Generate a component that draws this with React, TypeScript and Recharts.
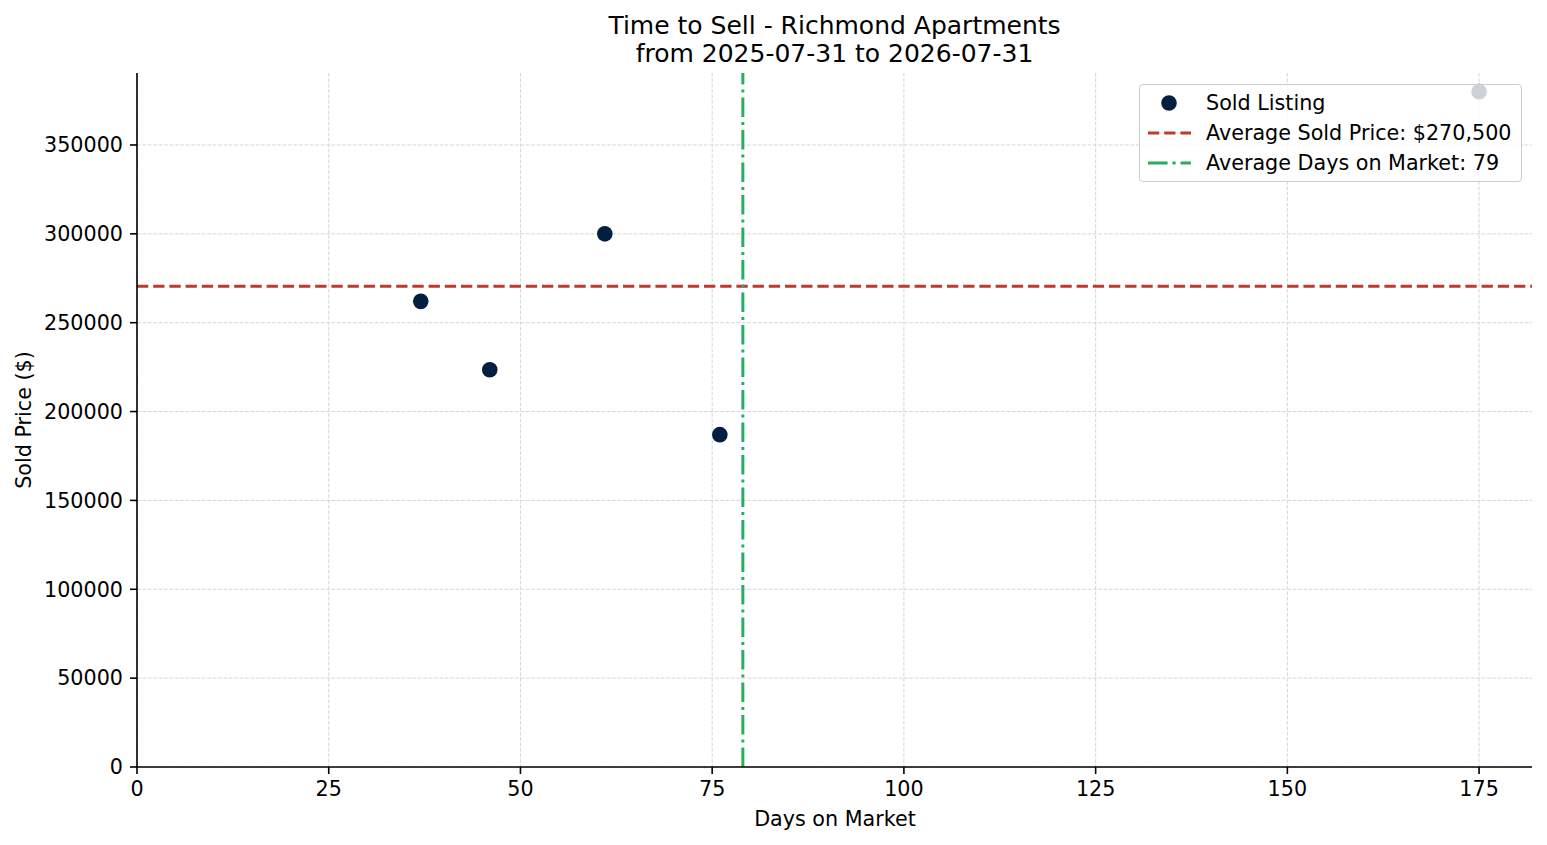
import { ScatterChart, Scatter, XAxis, YAxis, CartesianGrid, ReferenceLine } from "recharts"

const days = [37, 46, 61, 76, 175]
const soldPrices = [262000, 223500, 300000, 187000, 380000]
const xTicks = [0, 25, 50, 75, 100, 125, 150, 175]
const yTicks = [0, 50000, 100000, 150000, 200000, 250000, 300000, 350000]
const avgPrice = 270500
const avgDays = 79

const NAVY = "#031f3f"
const RED = "#c0392b"
const GREEN = "#27ae60"
const FONT = "'DejaVu Sans', sans-serif"

const points = days.map((d, i) => ({ days: d, price: soldPrices[i] }))

const Dot = (props: any) => <circle cx={props.cx} cy={props.cy} r={7.8} fill={NAVY} />

function LegendBox() {
  const row = (y: number) => ({ position: "absolute" as const, top: y - 14, left: 66, lineHeight: "28px", whiteSpace: "nowrap" as const })
  return (
    <div
      style={{
        position: "absolute",
        left: 1139,
        top: 84,
        width: 383,
        height: 98,
        boxSizing: "border-box",
        background: "rgba(255,255,255,0.8)",
        border: "1.6px solid #cccccc",
        borderRadius: 4,
        fontSize: 20.7,
      }}
    >
      <svg width={383} height={98} style={{ position: "absolute", left: 0, top: 0 }}>
        <circle cx={29} cy={18} r={7.8} fill={NAVY} />
        <line x1={8} x2={51} y1={48} y2={48} stroke={RED} strokeWidth={3} strokeDasharray="11.3 4.9" />
        <line x1={8} x2={51} y1={78} y2={78} stroke={GREEN} strokeWidth={3} strokeDasharray="19.6 4.9 3.1 4.9" />
      </svg>
      <div style={row(18)}>Sold Listing</div>
      <div style={row(48)}>Average Sold Price: $270,500</div>
      <div style={row(78)}>Average Days on Market: 79</div>
    </div>
  )
}

export default function App() {
  const axisStyle = { stroke: "#000", strokeWidth: 1.6 }
  return (
    <div style={{ position: "absolute", left: 0, top: 0, width: 1547, height: 845, background: "#fff", fontFamily: FONT, color: "#000" }}>
      <ScatterChart width={1547} height={845} margin={{ top: 73, right: 15, bottom: 28, left: 17 }}>
        <CartesianGrid
          stroke="#d6d6d6"
          strokeWidth={1}
          strokeDasharray="3.8 1.6"
          horizontalValues={yTicks}
          verticalValues={xTicks}
        />
        <XAxis
          type="number"
          dataKey="days"
          domain={[0, 181.9]}
          ticks={xTicks}
          interval={0}
          height={50}
          tickSize={7}
          tickMargin={7}
          axisLine={axisStyle}
          tickLine={axisStyle}
          tick={{ fontSize: 20.7, fill: "#000" }}
        />
        <YAxis
          type="number"
          dataKey="price"
          domain={[0, 390500]}
          ticks={yTicks}
          interval={0}
          width={120}
          tickSize={7}
          tickMargin={7}
          axisLine={axisStyle}
          tickLine={axisStyle}
          tick={{ fontSize: 20.7, fill: "#000" }}
          tickFormatter={(v: number) => String(v)}
        />
        <Scatter data={points} fill={NAVY} shape={Dot} isAnimationActive={false} />
        <ReferenceLine y={avgPrice} stroke={RED} strokeWidth={3} strokeDasharray="11.3 4.9" />
        <ReferenceLine x={avgDays} stroke={GREEN} strokeWidth={3} strokeDasharray="19.6 4.9 3.1 4.9" />
      </ScatterChart>

      <div style={{ position: "absolute", left: 334.5, width: 1000, top: 12, textAlign: "center", fontSize: 25, lineHeight: "28px" }}>
        Time to Sell - Richmond Apartments
        <br />
        from 2025-07-31 to 2026-07-31
      </div>
      <div style={{ position: "absolute", left: 335, width: 1000, top: 805, textAlign: "center", fontSize: 20.7, lineHeight: "28px" }}>
        Days on Market
      </div>
      <div
        style={{
          position: "absolute",
          left: 24 - 200,
          top: 420 - 14,
          width: 400,
          textAlign: "center",
          fontSize: 20.7,
          lineHeight: "28px",
          transform: "rotate(-90deg)",
        }}
      >
        Sold Price ($)
      </div>
      <LegendBox />
    </div>
  )
}
